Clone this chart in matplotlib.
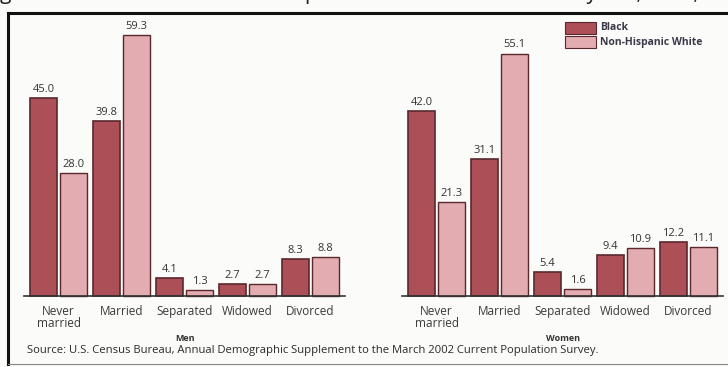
import matplotlib.pyplot as plt
from matplotlib.patches import Rectangle
from matplotlib.lines import Line2D

plt.rcParams['font.family'] = ['Open Sans', 'DejaVu Sans']

# DATA
categories = ['Never\nmarried', 'Married', 'Separated', 'Widowed', 'Divorced']
groups = ['Men', 'Women']
men_black = [45.0, 39.8, 4.1, 2.7, 8.3]
men_white = [28.0, 59.3, 1.3, 2.7, 8.8]
women_black = [42.0, 31.1, 5.4, 9.4, 12.2]
women_white = [21.3, 55.1, 1.6, 10.9, 11.1]
series_names = ['Black', 'Non-Hispanic White']
source = "Source: U.S. Census Bureau, Annual Demographic Supplement to the March 2002 Current Population Survey."

c_black = '#ad4f57'
c_white = '#e2acb1'
c_edge = '#5a282c'

W, H = 728, 367
fig = plt.figure(figsize=(W / 100, H / 100), dpi=100)
fig.patch.set_facecolor('#fbfbfa')
ax = fig.add_axes([0, 0, 1, 1])
ax.set_facecolor('#fbfbfa')

# one unit on x = 63 px, first group centre at 58.5 px; baseline at 296 px, 4.4 px per %
x0, ux = 58.5, 63.0
base, uy = H - 296, 4.4
ax.set_xlim(-x0 / ux, (W - x0) / ux)
ax.set_ylim(-base / uy, (H - base) / uy)
ax.axis('off')

off = 0.238
bw = 0.44
men_x = list(range(5))
women_x = [i + 6 for i in range(5)]

for xs, blk, wht, gname in [(men_x, men_black, men_white, 'Men'),
                            (women_x, women_black, women_white, 'Women')]:
    ax.bar([x - off for x in xs], blk, width=bw, color=c_black, edgecolor=c_edge, linewidth=1.2)
    ax.bar([x + off for x in xs], wht, width=bw, color=c_white, edgecolor=c_edge, linewidth=1.0)
    for x, vb, vw in zip(xs, blk, wht):
        ax.text(x - off, vb + 0.7, f"{vb:.1f}", ha='center', va='bottom', fontsize=8, color='#333333')
        ax.text(x + off, vw + 0.7, f"{vw:.1f}", ha='center', va='bottom', fontsize=8, color='#333333')
    for x, cat in zip(xs, categories):
        ax.text(x, -2.0, cat, ha='center', va='top', fontsize=8.5, color='#3a3a3a', linespacing=0.95)
    ax.plot([xs[0] - 0.55, xs[-1] + 0.55], [0, 0], color='#333333', lw=1.2)
    ax.text(xs[2], -8.6, gname, ha='center', va='top', fontsize=6.5, fontweight='bold', color='#333333')

ax.text(27 / W, (H - 351) / H, source, transform=fig.transFigure, ha='left', va='center',
        fontsize=8.1, color='#2a2a2a')

# legend
for i, (name, c) in enumerate(zip(series_names, [c_black, c_white])):
    ytop = 22 + i * 14
    fig.patches.append(Rectangle((565 / W, (H - ytop - 12) / H), 31 / W, 12 / H,
                                 transform=fig.transFigure, facecolor=c, edgecolor=c_edge, lw=0.8))
    fig.text(600 / W, (H - ytop - 6) / H, name, ha='left', va='center', fontsize=7.5,
             fontweight='bold', color='#3a3a4a')

# scanned frame and clipped title
fig.lines.append(Line2D([8 / W, 8 / W], [(H - 13) / H, (H - 364) / H], transform=fig.transFigure,
                        color='#111111', lw=2.2))
fig.lines.append(Line2D([8 / W, 1.0], [(H - 13) / H, (H - 13) / H], transform=fig.transFigure,
                        color='#111111', lw=2.2))
fig.lines.append(Line2D([8 / W, 1.0], [(H - 364) / H, (H - 364) / H], transform=fig.transFigure,
                        color='#888888', lw=0.8))
fig.text(0.0, (H + 7) / H, "gure 2.  Marital Status of the Population 15 Years and Over by Sex, Race, and Hispanic Origin: 2002",
         ha='left', va='center', fontsize=15, color='#222222')

fig.savefig('out.png', dpi=100, facecolor=fig.get_facecolor())
